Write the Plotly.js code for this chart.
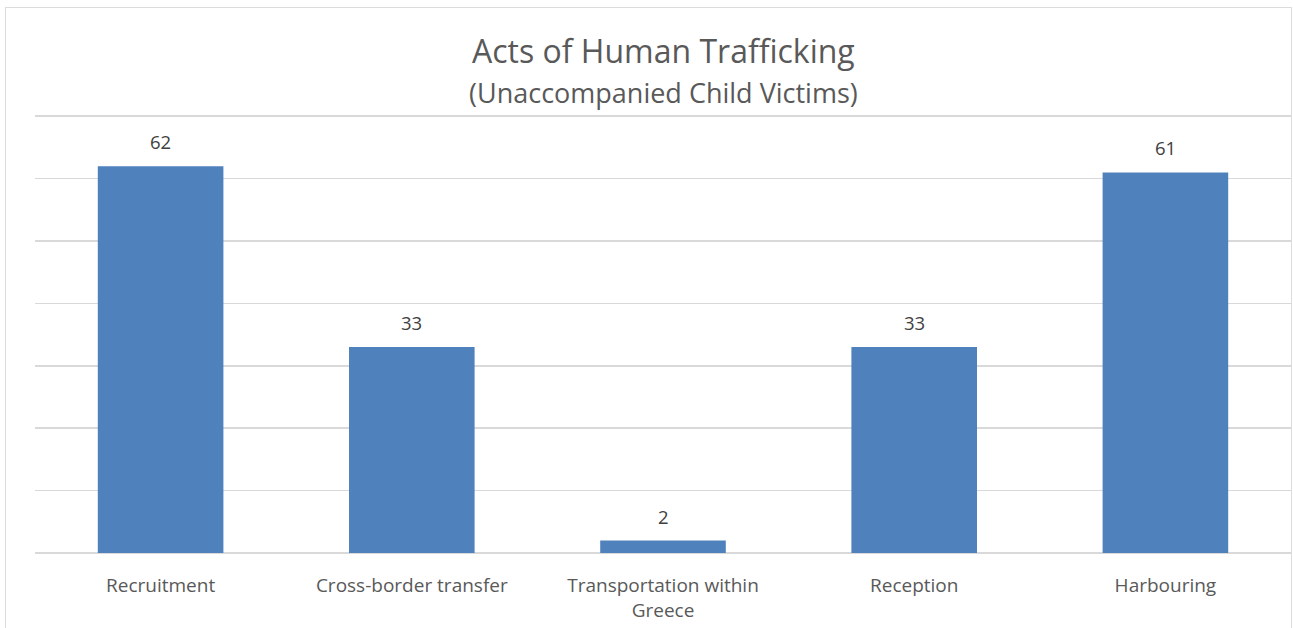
<!DOCTYPE html>
<html>
<head>
<meta charset="utf-8">
<script src="https://cdn.plot.ly/plotly-3.0.1.min.js"></script>
<style>
  html, body { margin: 0; padding: 0; background: #ffffff; }
  #frame { position: absolute; left: 5px; top: 7px; width: 1287px; height: 640px; border: 1.5px solid #dcdcdc; box-sizing: border-box; }
  #chart { position: absolute; left: 0; top: 0; width: 1293px; height: 628px; }
</style>
</head>
<body>
<div id="frame"></div>
<div id="chart"></div>
<script>
const categories = ["Recruitment", "Cross-border transfer", "Transportation within<br>Greece", "Reception", "Harbouring"];
const values = [62, 33, 2, 33, 61];
const titleMain = "Acts of Human Trafficking";
const titleSub = "(Unaccompanied Child Victims)";

const FONT = "Open Sans, Noto Sans, Liberation Sans, sans-serif";

const trace = {
  type: "bar",
  x: categories,
  y: values,
  marker: { color: "#4f81bd" },
  hoverinfo: "x+y"
};

const annotations = categories.map((c, i) => ({
  x: c, y: values[i], xref: "x", yref: "y",
  text: String(values[i]),
  showarrow: false, yanchor: "bottom", yshift: 10,
  font: { family: FONT, size: 18.5, color: "#404040" }
}));

annotations.push({
  xref: "paper", yref: "paper", x: 0.5, y: 1.081, xanchor: "center", yanchor: "bottom",
  text: titleMain, showarrow: false,
  font: { family: FONT, size: 32, color: "#595959" }
});
annotations.push({
  xref: "paper", yref: "paper", x: 0.5, y: 0.9935, xanchor: "center", yanchor: "bottom",
  text: titleSub, showarrow: false,
  font: { family: FONT, size: 27, color: "#595959" }
});

const layout = {
  width: 1293, height: 628,
  paper_bgcolor: "rgba(0,0,0,0)",
  plot_bgcolor: "rgba(0,0,0,0)",
  margin: { l: 35, r: 2, t: 110, b: 75, pad: 0 },
  bargap: 0.5,
  showlegend: false,
  xaxis: {
    type: "category",
    showgrid: false, showline: false, zeroline: false,
    ticks: "outside", ticklen: 15, tickcolor: "rgba(0,0,0,0)",
    tickfont: { family: FONT, size: 19, color: "#595959" },
    fixedrange: true
  },
  yaxis: {
    range: [0, 71], dtick: 10, tick0: 0,
    showticklabels: false,
    showgrid: true, gridcolor: "#d9d9d9", gridwidth: 1.5,
    zeroline: true, zerolinecolor: "#d9d9d9", zerolinewidth: 1.5,
    showline: false, ticks: "",
    fixedrange: true
  },
  annotations: annotations
};

Plotly.newPlot("chart", [trace], layout, { displayModeBar: false, staticPlot: true });
</script>
</body>
</html>
